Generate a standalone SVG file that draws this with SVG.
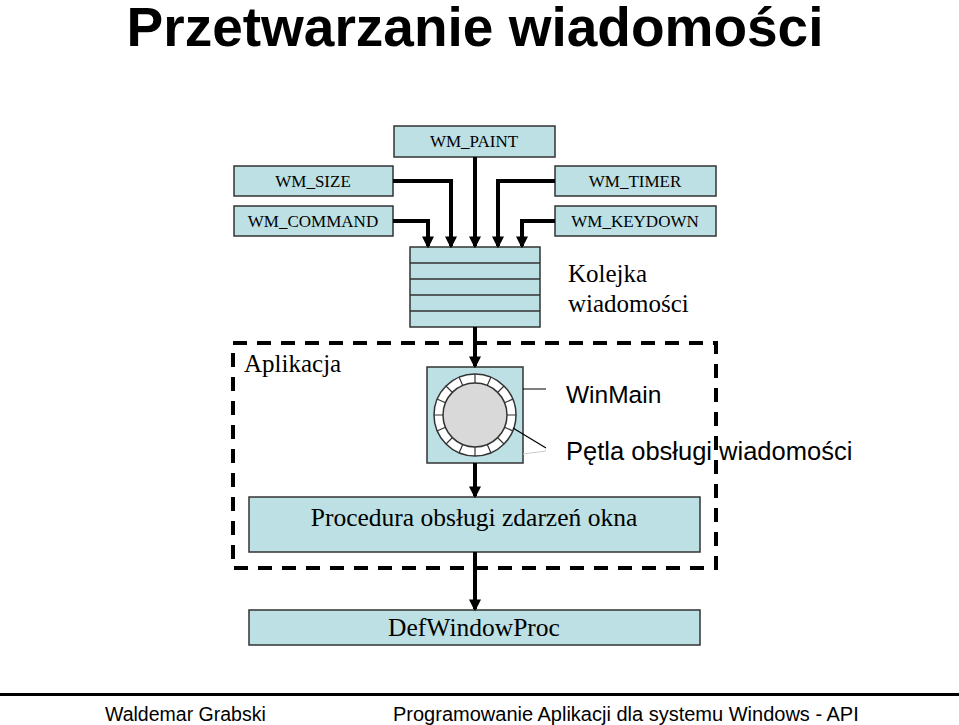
<svg xmlns="http://www.w3.org/2000/svg" width="959" height="725" viewBox="0 0 959 725">
<style>
.b{fill:#bde0e4;stroke:#333;stroke-width:1.5}
.t{font-family:"Liberation Serif",serif;fill:#000}
.s{font-family:"Liberation Sans",sans-serif;fill:#000}
.c{stroke:#000;stroke-width:4;fill:none}
</style>
<defs><marker id="a" viewBox="0 0 10 10" refX="8" refY="5" markerWidth="3" markerHeight="3" orient="auto"><path d="M0,0L10,5L0,10z" fill="#000"/></marker></defs>
<rect width="959" height="725" fill="#fff"/>
<text x="475" y="46" class="s" font-size="55" font-weight="bold" text-anchor="middle">Przetwarzanie wiadomości</text>
<g id="paint"><rect class="b" x="394" y="126" width="161" height="31"/><text class="t" x="474" y="147" font-size="17" text-anchor="middle">WM_PAINT</text></g>
<g id="size"><rect class="b" x="234" y="166" width="159" height="30"/><text class="t" x="313" y="187" font-size="17" text-anchor="middle">WM_SIZE</text></g>
<g id="command"><rect class="b" x="234" y="206" width="159" height="30"/><text class="t" x="313" y="227" font-size="17" text-anchor="middle">WM_COMMAND</text></g>
<g id="timer"><rect class="b" x="555" y="166" width="161" height="30"/><text class="t" x="635" y="187" font-size="17" text-anchor="middle">WM_TIMER</text></g>
<g id="keydown"><rect class="b" x="555" y="206" width="161" height="30"/><text class="t" x="635" y="227" font-size="17" text-anchor="middle">WM_KEYDOWN</text></g>
<g id="queue"><rect class="b" x="410" y="247" width="130" height="80"/>
<path d="M410,263H540M410,279H540M410,295H540M410,311H540" stroke="#333" stroke-width="1.5"/>
<text class="t" x="568" y="282" font-size="25">Kolejka</text><text class="t" x="568" y="312" font-size="25">wiadomości</text></g>
<g id="app"><rect x="233" y="343" width="483" height="225" fill="none" stroke="#000" stroke-width="4" stroke-dasharray="14,10"/>
<text class="t" x="244" y="372" font-size="25">Aplikacja</text></g>
<g id="winmain"><rect class="b" x="427" y="367" width="96" height="96"/>
<circle cx="475" cy="415" r="41" fill="#fff" stroke="#333" stroke-width="1.5"/>
<circle cx="475" cy="415" r="32" fill="#d9d9d9" stroke="#333" stroke-width="1.5"/>
<g stroke="#333" stroke-width="1.2">
<path d="M475,374V383M475,447V456M434,415H443M507,415H516M446,386L452,392M498,438L504,444M504,386L498,392M452,438L446,444M459,377L463,386M487,444L491,453M491,377L487,386M463,444L459,453M437,399L446,403M504,427L513,431M513,399L504,403M446,427L437,431"/></g>
<path d="M523,389H546M513,428L546,448" stroke="#000" stroke-width="1.2"/>
<path d="M523,454L546,451" stroke="#ccc" stroke-width="1"/>
<text class="s" x="566" y="403" font-size="24.5">WinMain</text>
<text class="s" x="566" y="460" font-size="25.5">Pętla obsługi wiadomości</text></g>
<g id="proc"><rect class="b" x="249" y="497" width="451" height="55"/><text class="t" x="474" y="526" font-size="25.5" text-anchor="middle">Procedura obsługi zdarzeń okna</text></g>
<g id="def"><rect class="b" x="249" y="610" width="451" height="35"/><text class="t" x="474" y="636" font-size="25.5" text-anchor="middle">DefWindowProc</text></g>
<g id="connectors" class="c" marker-end="url(#a)">
<path d="M475,157V246"/><path d="M393,181H451V246"/><path d="M393,221H428V246"/><path d="M555,181H498V246"/><path d="M555,221H522V246"/>
<path d="M475,327V366"/><path d="M475,463V496"/><path d="M475,552V609"/>
</g>
<rect x="0" y="693" width="959" height="3" fill="#000"/>
<text class="s" x="105" y="721" font-size="19.5">Waldemar Grabski</text>
<text class="s" x="393" y="721" font-size="20">Programowanie Aplikacji dla systemu Windows - API</text>
</svg>
